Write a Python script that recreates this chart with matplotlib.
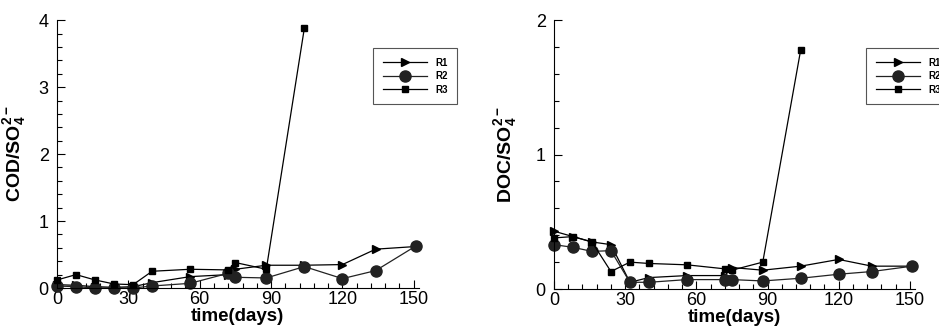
import numpy as np
import matplotlib
matplotlib.use('Agg')
from matplotlib import pyplot as plt
from matplotlib.ticker import MultipleLocator

plt.rcParams['font.family'] = ['Liberation Sans', 'DejaVu Sans']
plt.rcParams['mathtext.fontset'] = 'custom'
plt.rcParams['mathtext.bf'] = 'Liberation Sans:bold'
plt.rcParams['mathtext.rm'] = 'Liberation Sans:bold'
plt.rcParams['mathtext.default'] = 'bf'

# sampling days
days = [0, 8, 16, 24, 32, 40, 56, 72, 75, 88, 104, 120, 134, 151]
days_r3 = [0, 8, 16, 24, 32, 40, 56, 72, 75, 88, 104]

# COD/SO4 ratio
cod_r1 = [0.05, 0.04, 0.02, 0.01, 0.02, 0.08, 0.17, 0.20, 0.28, 0.34, 0.34, 0.35, 0.58, 0.62]
cod_r2 = [0.03, 0.02, 0.00, 0.00, 0.00, 0.03, 0.07, 0.22, 0.16, 0.15, 0.32, 0.14, 0.26, 0.63]
cod_r3 = [0.12, 0.20, 0.12, 0.06, 0.05, 0.25, 0.28, 0.27, 0.38, 0.28, 3.88]

# DOC/SO4 ratio
doc_r1 = [0.43, 0.39, 0.35, 0.33, 0.05, 0.085, 0.10, 0.10, 0.16, 0.14, 0.17, 0.22, 0.17, 0.17]
doc_r2 = [0.33, 0.31, 0.28, 0.285, 0.05, 0.05, 0.07, 0.07, 0.07, 0.06, 0.08, 0.11, 0.13, 0.17]
doc_r3 = [0.38, 0.39, 0.35, 0.13, 0.20, 0.19, 0.18, 0.15, 0.14, 0.20, 1.78]

fig = plt.figure(figsize=(9.39, 3.34), dpi=100)
ax1 = fig.add_axes([0.0607, 0.1377, 0.385, 0.802])
ax2 = fig.add_axes([0.590, 0.1347, 0.384, 0.805])


def draw(ax, r1, r2, r3, ymax, ylabel, leg_pos):
    ax.plot(days, r1, color='black', lw=0.9, marker='>', ms=6, label='R1', clip_on=False)
    ax.plot(days, r2, color='#222222', lw=0.9, marker='o', ms=8, label='R2', clip_on=False)
    ax.plot(days_r3, r3, color='black', lw=0.9, marker='s', ms=5, label='R3', clip_on=False)
    ax.set_xlim(0, 152)
    ax.set_ylim(0, ymax)
    ax.spines['top'].set_visible(False)
    ax.spines['right'].set_visible(False)
    ax.xaxis.set_major_locator(MultipleLocator(30))
    ax.xaxis.set_minor_locator(MultipleLocator(6))
    ax.yaxis.set_major_locator(MultipleLocator(1))
    ax.yaxis.set_minor_locator(MultipleLocator(0.2))
    ax.tick_params(which='both', direction='in', labelsize=13, width=0.8, pad=6)
    ax.tick_params(axis='x', pad=2)
    ax.tick_params(which='major', length=6)
    ax.tick_params(which='minor', length=3.5)
    ax.set_xlabel('time(days)', fontsize=13.5, fontweight='bold', labelpad=0)
    ax.set_ylabel(ylabel, fontsize=14, fontweight='bold')
    leg = ax.legend(loc='upper left', bbox_to_anchor=leg_pos, bbox_transform=fig.transFigure,
                    fancybox=False, edgecolor='#555555', handlelength=4.6,
                    handletextpad=0.8, borderaxespad=0,
                    prop={'weight': 'bold', 'size': 7}, labelspacing=0.35,
                    borderpad=1.0, framealpha=1)
    leg.get_frame().set_linewidth(0.8)


draw(ax1, cod_r1, cod_r2, cod_r3, 4, 'COD/SO$_4^{2-}$', (373 / 939, 1 - 48 / 334))
draw(ax2, doc_r1, doc_r2, doc_r3, 2, 'DOC/SO$_4^{2-}$', (866 / 939, 1 - 48 / 334))
ax1.yaxis.set_label_coords(-0.08, 0.5)
ax2.yaxis.set_label_coords(-0.097, 0.5)

fig.savefig('out.png', dpi=100)
